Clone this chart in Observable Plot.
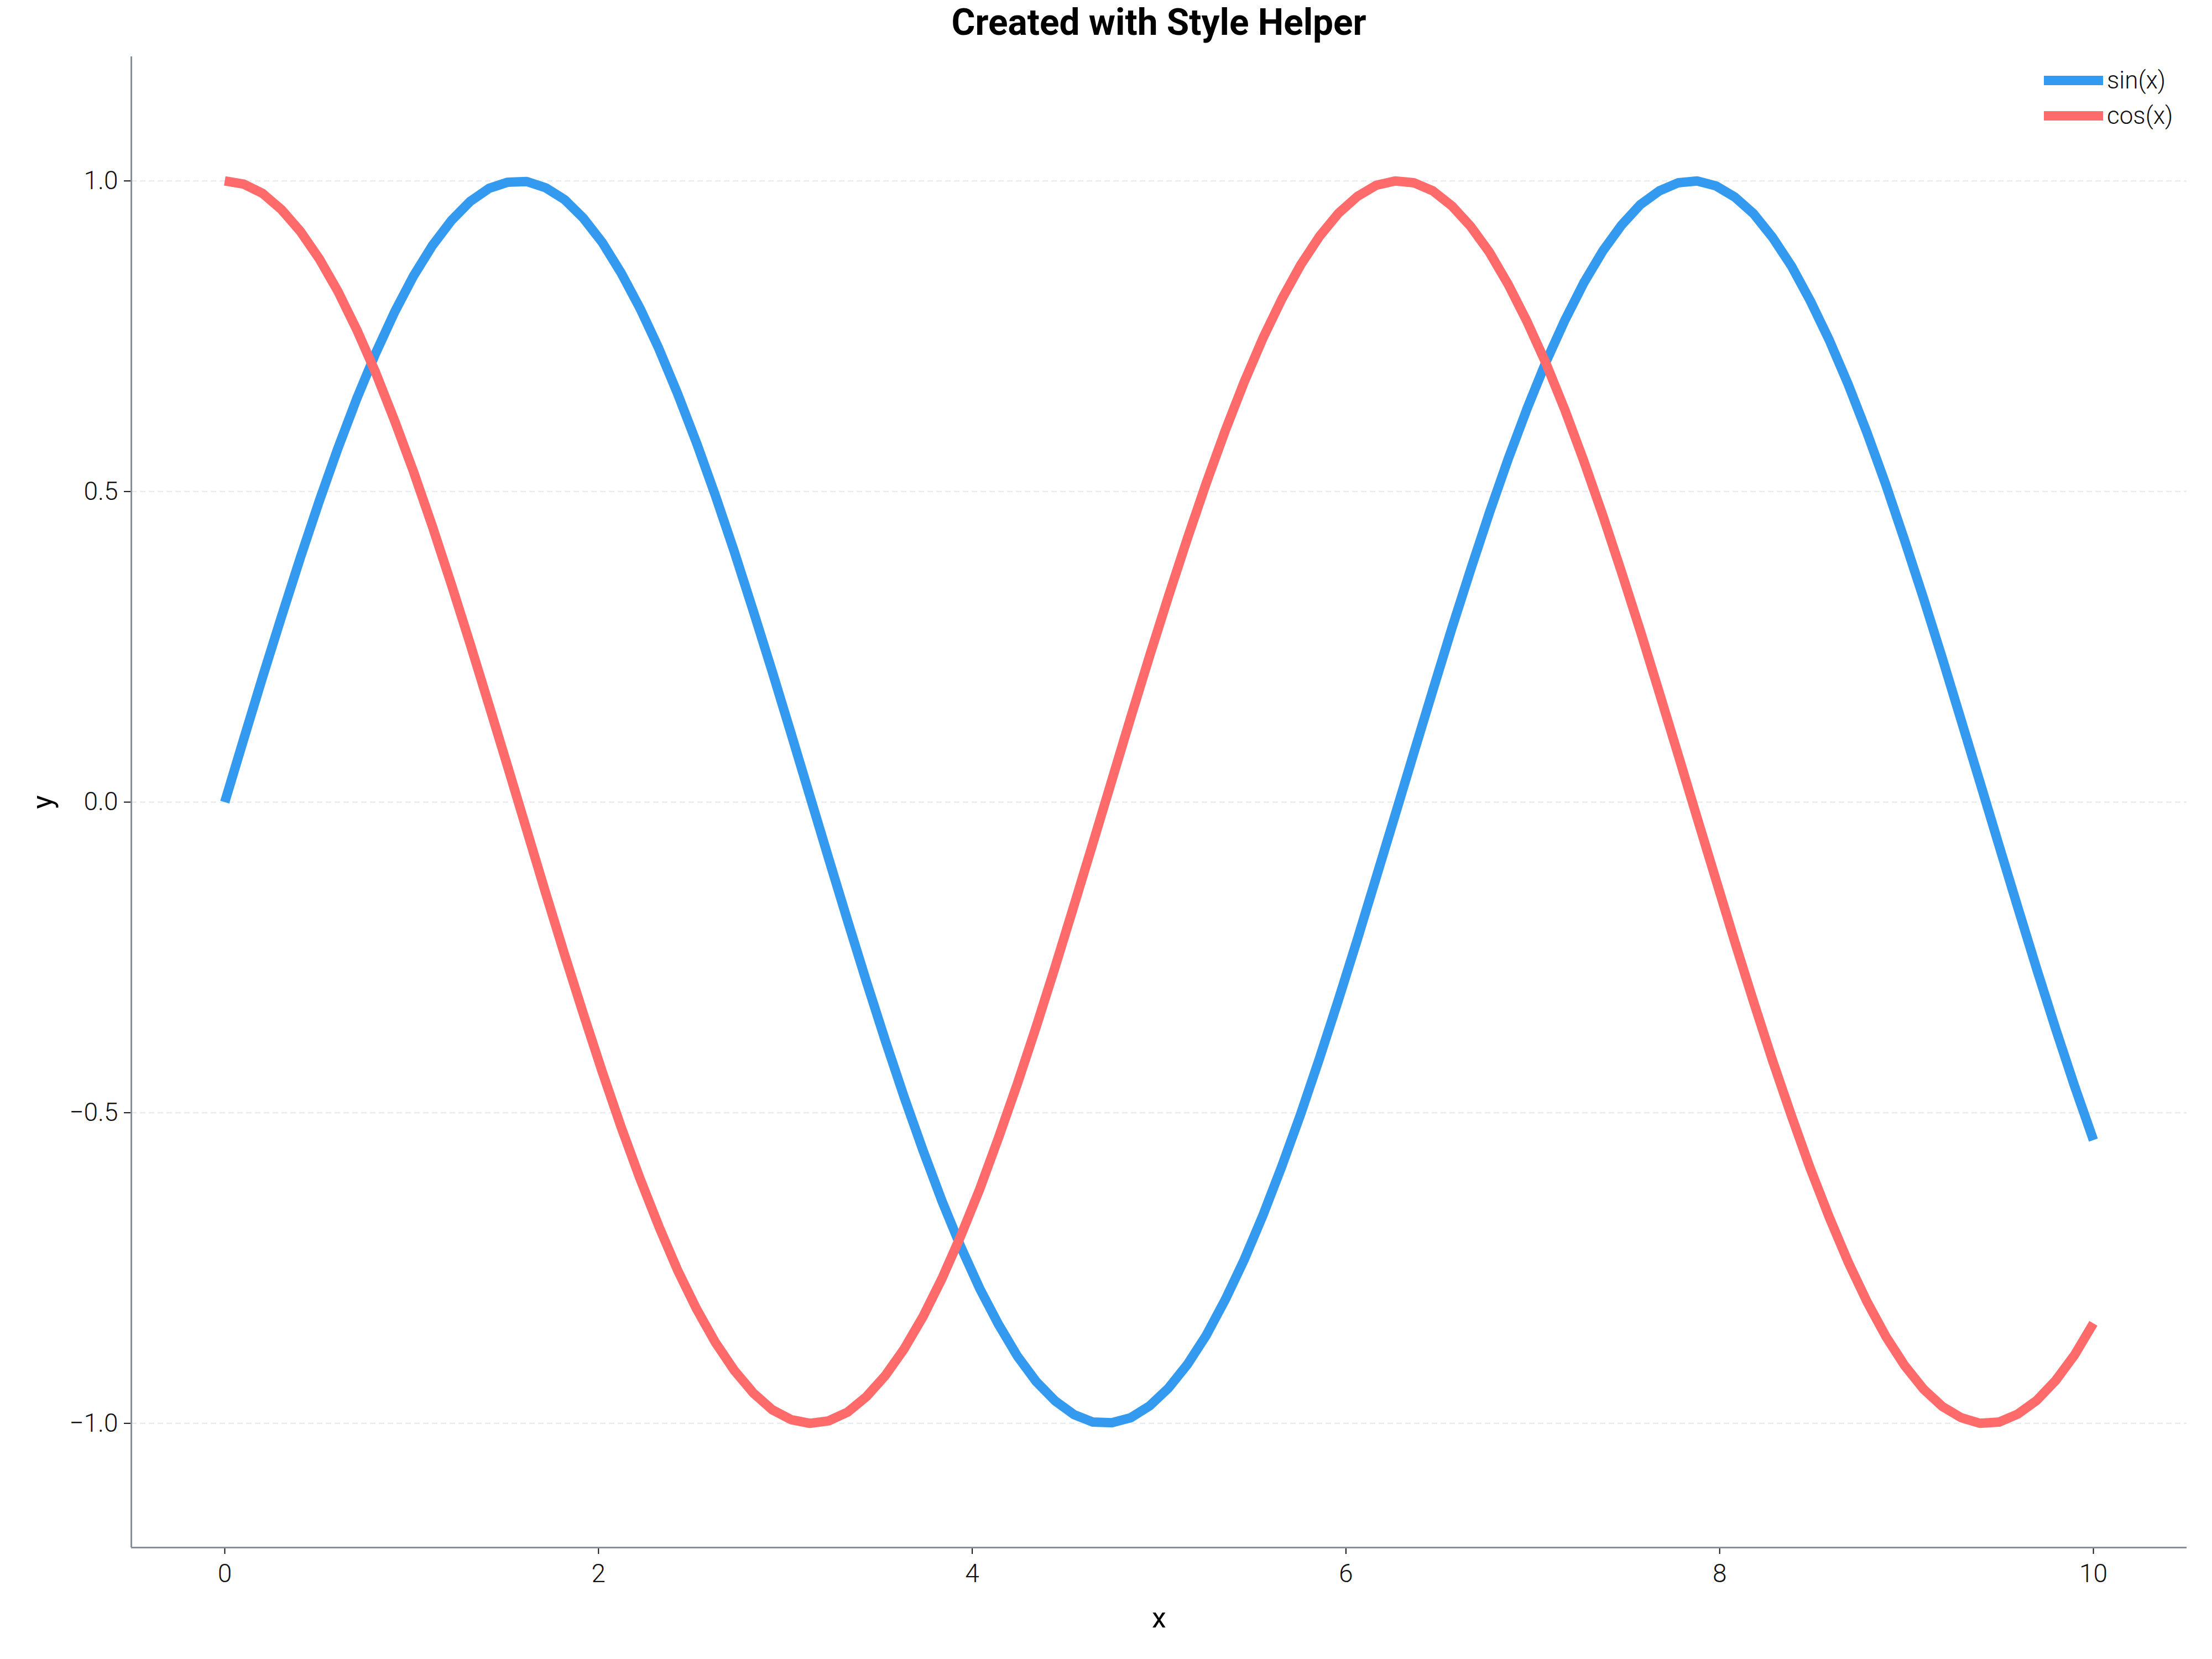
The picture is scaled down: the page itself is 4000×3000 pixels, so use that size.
<!DOCTYPE html>
<html>
<head>
<meta charset="utf-8">
<script src="https://cdn.jsdelivr.net/npm/d3@7"></script>
<script src="https://cdn.jsdelivr.net/npm/@observablehq/plot@0.6"></script>
<style>
  html, body { margin: 0; padding: 0; background: #ffffff; }
  #wrap { position: relative; width: 4000px; height: 3000px; background: #ffffff; }
  #titlebox { position: absolute; left: 237px; width: 3717px; top: 8px; text-align: center; }
  #title {
    display: inline-block; transform-origin: 50% 50%;
    font-family: Roboto, sans-serif; font-weight: 700; font-size: 66px; line-height: 1; color: #000;
    white-space: nowrap;
  }
  #chart { position: absolute; left: 0; top: 100px; }
  .legend-row { position: absolute; display: flex; align-items: center; height: 50px; }
  .legend-row .sw { width: 107px; height: 17px; }
  .legend-row .lb { margin-left: 7px; font-family: Roboto, sans-serif; font-weight: 300; font-size: 44px; color: #111; line-height: 50px; }
  #chart svg g[aria-label="x-axis tick"] path,
  #chart svg g[aria-label="y-axis tick"] path { stroke-width: 2px; }
</style>
</head>
<body>
<div id="wrap">
  <div id="titlebox"><span id="title">Created with Style Helper</span></div>
  <div id="chart"></div>
  <div id="legend"></div>
</div>
<script>
// ---- data ----
const xValues = [0, 0.101, 0.202, 0.303, 0.404, 0.505, 0.606, 0.707, 0.808, 0.909,
  1.010, 1.111, 1.212, 1.313, 1.414, 1.515, 1.616, 1.717, 1.818, 1.919,
  2.020, 2.121, 2.222, 2.323, 2.424, 2.525, 2.626, 2.727, 2.828, 2.929,
  3.030, 3.131, 3.232, 3.333, 3.434, 3.535, 3.636, 3.737, 3.838, 3.939,
  4.040, 4.141, 4.242, 4.343, 4.444, 4.545, 4.646, 4.747, 4.848, 4.949,
  5.051, 5.152, 5.253, 5.354, 5.455, 5.556, 5.657, 5.758, 5.859, 5.960,
  6.061, 6.162, 6.263, 6.364, 6.465, 6.566, 6.667, 6.768, 6.869, 6.970,
  7.071, 7.172, 7.273, 7.374, 7.475, 7.576, 7.677, 7.778, 7.879, 7.980,
  8.081, 8.182, 8.283, 8.384, 8.485, 8.586, 8.687, 8.788, 8.889, 8.990,
  9.091, 9.192, 9.293, 9.394, 9.495, 9.596, 9.697, 9.798, 9.899, 10];

const sinValues = [0, 0.101, 0.201, 0.298, 0.393, 0.484, 0.570, 0.650, 0.723, 0.789,
  0.847, 0.896, 0.936, 0.967, 0.988, 0.998, 0.999, 0.989, 0.970, 0.940,
  0.901, 0.852, 0.795, 0.730, 0.657, 0.578, 0.493, 0.403, 0.308, 0.211,
  0.111, 0.010, -0.091, -0.191, -0.289, -0.384, -0.475, -0.561, -0.642, -0.716,
  -0.783, -0.841, -0.892, -0.933, -0.964, -0.986, -0.998, -0.999, -0.991, -0.972,
  -0.943, -0.905, -0.858, -0.801, -0.737, -0.665, -0.586, -0.502, -0.412, -0.318,
  -0.221, -0.121, -0.021, 0.080, 0.180, 0.279, 0.374, 0.466, 0.553, 0.634,
  0.709, 0.776, 0.836, 0.887, 0.929, 0.962, 0.984, 0.997, 1.000, 0.992,
  0.974, 0.947, 0.909, 0.863, 0.807, 0.744, 0.673, 0.595, 0.511, 0.421,
  0.328, 0.231, 0.131, 0.031, -0.070, -0.170, -0.269, -0.365, -0.457, -0.544];

const cosValues = [1.000, 0.995, 0.980, 0.954, 0.919, 0.875, 0.822, 0.760, 0.691, 0.614,
  0.532, 0.444, 0.351, 0.255, 0.156, 0.056, -0.045, -0.146, -0.245, -0.341,
  -0.434, -0.523, -0.606, -0.683, -0.754, -0.816, -0.870, -0.915, -0.951, -0.978,
  -0.994, -1.000, -0.996, -0.982, -0.957, -0.923, -0.880, -0.828, -0.767, -0.698,
  -0.623, -0.540, -0.453, -0.361, -0.265, -0.166, -0.066, 0.035, 0.136, 0.235,
  0.332, 0.425, 0.514, 0.598, 0.676, 0.747, 0.810, 0.865, 0.911, 0.948,
  0.975, 0.993, 1.000, 0.997, 0.984, 0.960, 0.927, 0.885, 0.833, 0.773,
  0.706, 0.631, 0.549, 0.462, 0.370, 0.275, 0.176, 0.076, -0.025, -0.125,
  -0.225, -0.322, -0.416, -0.505, -0.590, -0.668, -0.740, -0.804, -0.860, -0.907,
  -0.945, -0.973, -0.991, -1.000, -0.998, -0.985, -0.963, -0.931, -0.890, -0.839];

const seriesNames = ["sin(x)", "cos(x)"];
const seriesColors = ["#339af0", "#ff6b6b"];
const xTicks = [0, 2, 4, 6, 8, 10];
const yTicks = [-1.0, -0.5, 0.0, 0.5, 1.0];
const xDomain = [-0.5, 10.5];
const yDomain = [-1.2, 1.2];
const xLabel = "x";
const yLabel = "y";

// ---- table for Plot ----
const rows = [];
[sinValues, cosValues].forEach((vals, k) => {
  vals.forEach((v, i) => rows.push({x: xValues[i], y: v, series: seriesNames[k]}));
});

const chart = Plot.plot({
  width: 4000,
  height: 2900,
  marginTop: 2,
  marginLeft: 237,
  marginRight: 46,
  marginBottom: 202,
  style: {fontFamily: "Roboto, sans-serif", fontSize: "46px", fontWeight: 300, color: "#111", background: "#ffffff", overflow: "visible"},
  x: {domain: xDomain, ticks: xTicks, tickSize: 12, tickPadding: 18, tickFormat: d3.format("d"), label: null},
  y: {domain: yDomain, ticks: yTicks, tickSize: 13, tickPadding: 11, tickFormat: d3.format(".1f"), label: null},
  color: {domain: seriesNames, range: seriesColors},
  marks: [
    Plot.ruleY(yTicks, {stroke: "#e9ecef", strokeWidth: 2.5, strokeDasharray: "10,6"}),
    Plot.line(rows, {x: "x", y: "y", z: "series", stroke: "series", strokeWidth: 17, strokeLinecap: "butt", strokeLinejoin: "round"}),
    Plot.ruleX([xDomain[0]], {stroke: "#868e96", strokeWidth: 3}),
    Plot.ruleY([yDomain[0]], {stroke: "#868e96", strokeWidth: 3}),
    Plot.text([xLabel], {text: d => d, frameAnchor: "bottom", lineAnchor: "middle", dy: 128, fontSize: 52, fontWeight: 400, fill: "#000"}),
    Plot.text([yLabel], {text: d => d, frameAnchor: "left", lineAnchor: "middle", textAnchor: "middle", dx: -160, rotate: -90, fontSize: 52, fontWeight: 400, fill: "#000"})
  ]
});
document.getElementById("chart").appendChild(chart);

// condense the title to the reference's narrow look
const titleEl = document.getElementById("title");
const titleTargetWidth = 750;
const w = titleEl.getBoundingClientRect().width;
if (w > 0) titleEl.style.transform = "scaleX(" + (titleTargetWidth / w) + ")";

// ---- legend ----
const legend = document.getElementById("legend");
const legendTops = [120, 184];
seriesNames.forEach((name, k) => {
  const row = document.createElement("div");
  row.className = "legend-row";
  row.style.left = "3696px";
  row.style.top = legendTops[k] + "px";
  const sw = document.createElement("div");
  sw.className = "sw";
  sw.style.background = seriesColors[k];
  const lb = document.createElement("div");
  lb.className = "lb";
  lb.textContent = name;
  row.appendChild(sw);
  row.appendChild(lb);
  legend.appendChild(row);
});
</script>
</body>
</html>
